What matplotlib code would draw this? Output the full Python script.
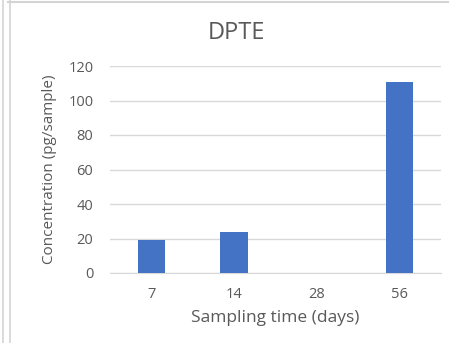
import matplotlib
matplotlib.use("Agg")
import matplotlib.pyplot as plt
from matplotlib.lines import Line2D
import numpy as np

days = ["7", "14", "28", "56"]
concentration = [19, 23.5, 0, 111]
y_ticks = [0, 20, 40, 60, 80, 100, 120]

TEXT = "#595959"
GRID = "#d9d9d9"
BAR = "#4472c4"

plt.rcParams["font.family"] = ["Open Sans", "DejaVu Sans"]

fig = plt.figure(figsize=(4.49, 3.43), dpi=100)
ax = fig.add_axes([110 / 449, 1 - 273 / 343, 331 / 449, 207 / 343])

x = np.arange(len(days))
ax.bar(x, concentration, width=0.33, color=BAR, zorder=3)

ax.set_xlim(-0.5, len(days) - 0.5)
ax.set_ylim(0, 120)
ax.set_yticks(y_ticks)
ax.set_xticks(x)
ax.set_xticklabels(days)
ax.tick_params(axis="both", length=0, colors=TEXT, labelsize=10.5)
ax.tick_params(axis="y", pad=12)
ax.tick_params(axis="x", pad=10)
ax.grid(axis="y", color=GRID, linewidth=1, zorder=0)
for side in ["top", "right", "left"]:
    ax.spines[side].set_visible(False)
ax.spines["bottom"].set_color(GRID)

ax.set_xlabel("Sampling time (days)", color=TEXT, fontsize=12.5, labelpad=6)
ax.set_ylabel("Concentration (pg/sample)", color=TEXT, fontsize=11, labelpad=8)
fig.text(236 / 449, 1 - 33 / 343, "DPTE", color=TEXT, fontsize=17,
         ha="center", va="center")

# chart frame edges
frame = "#d4d4d4"
for xp in (2.5, 9.5):
    fig.add_artist(Line2D([xp / 449, xp / 449], [0, 1], color=frame, lw=1.2))
fig.add_artist(Line2D([8 / 449, 1], [1 - 1.5 / 343, 1 - 1.5 / 343], color=frame, lw=1.5))

fig.savefig("out.png", dpi=100)
